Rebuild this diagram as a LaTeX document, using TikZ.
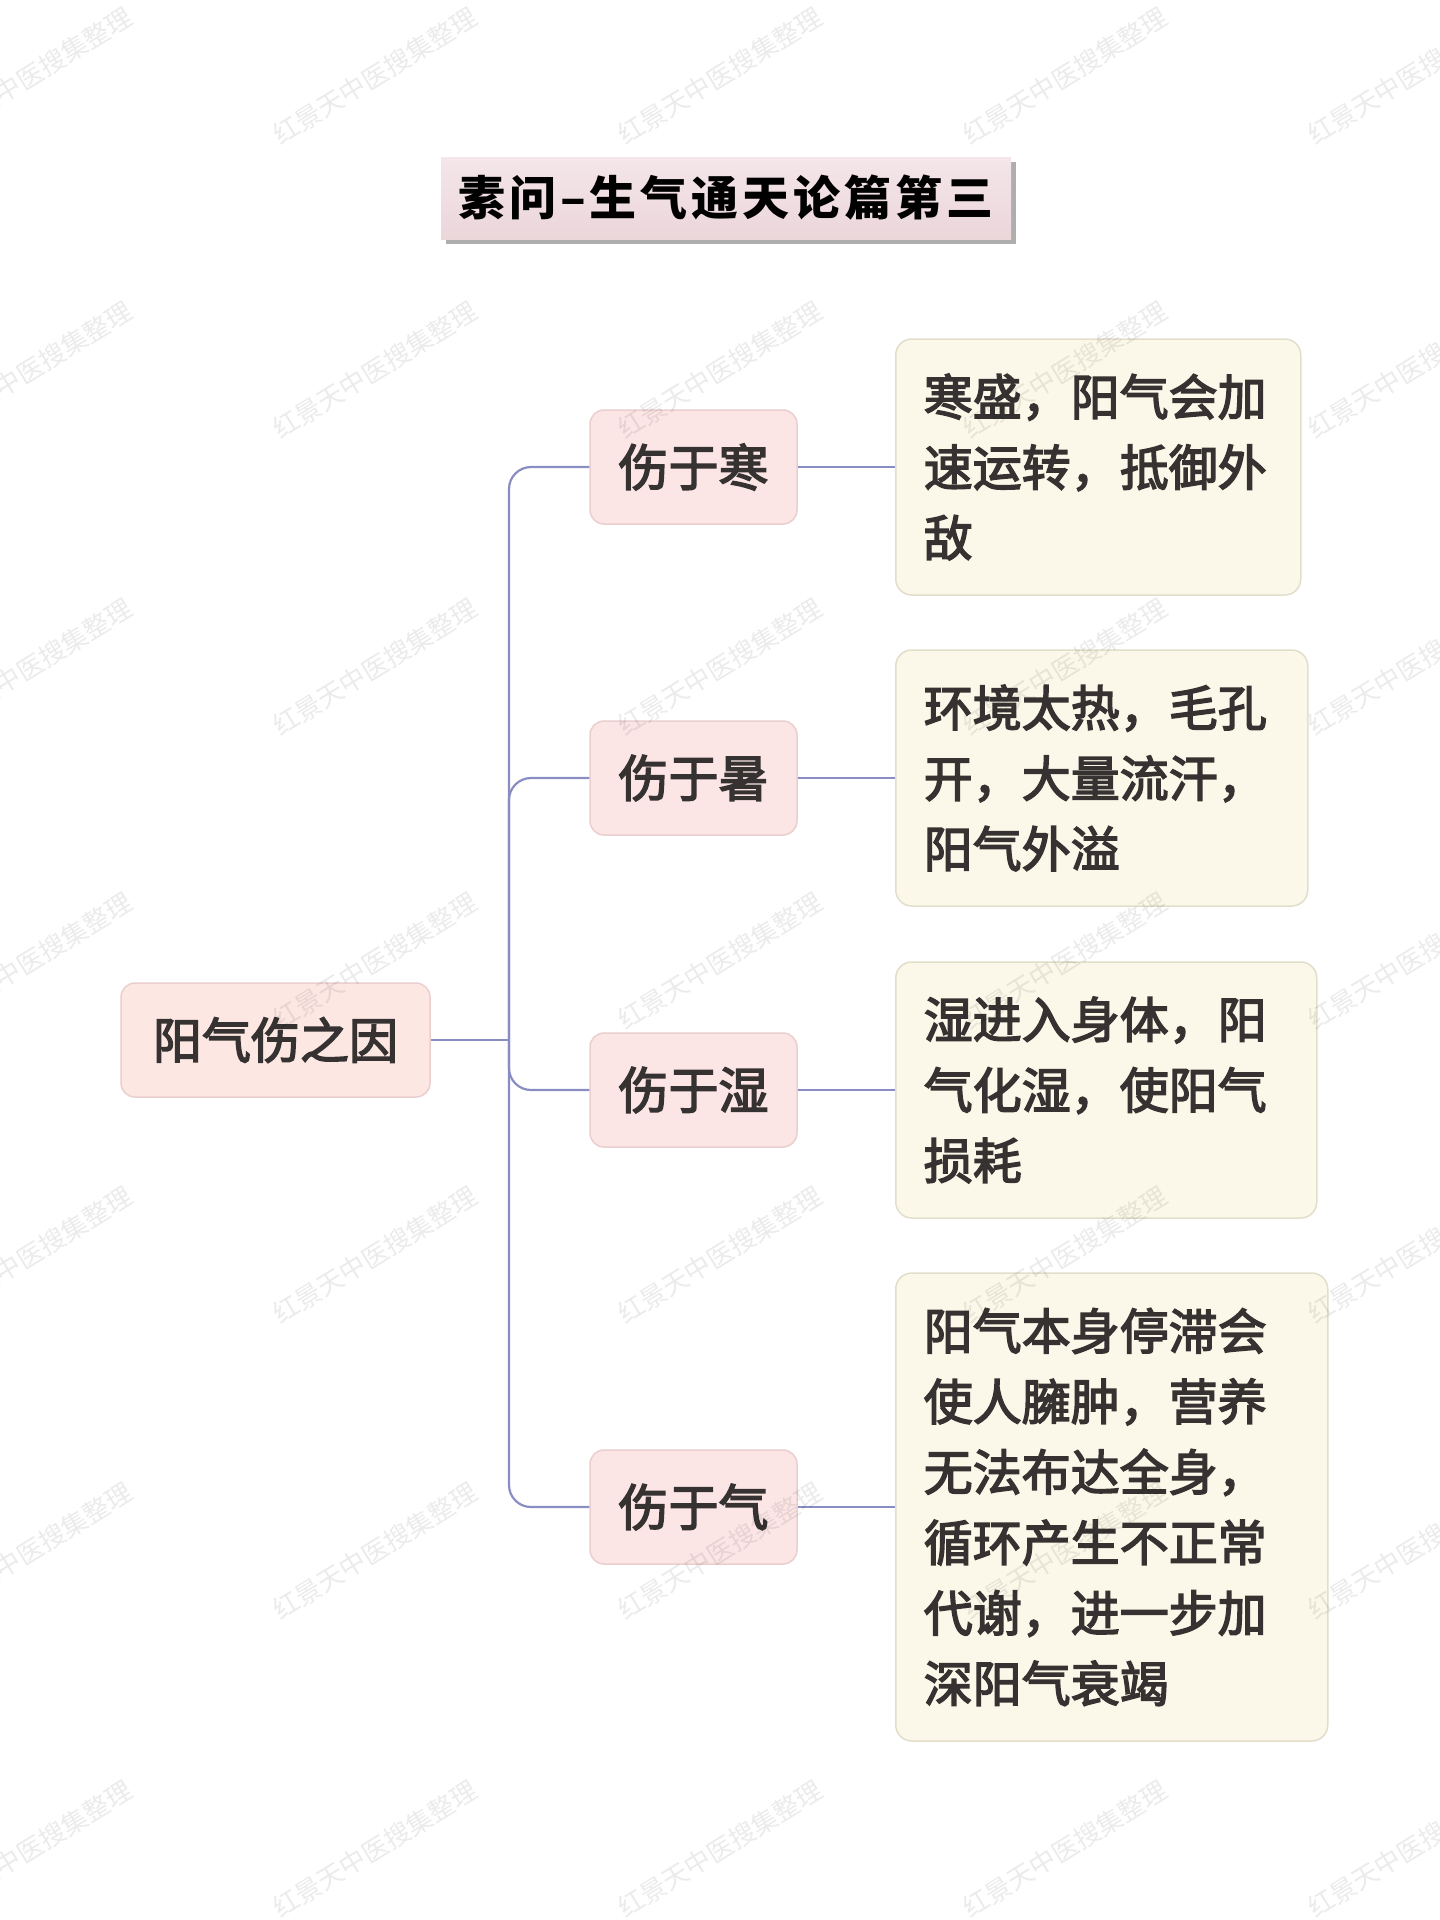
\documentclass[tikz,border=0pt]{standalone}
\usepackage{fontspec}
\setmainfont{Noto Sans CJK SC}
\newfontfamily\cjk{Noto Sans CJK SC}
\newfontfamily\cjkm[FakeBold=3]{Noto Sans CJK SC}
\usetikzlibrary{shadows}
\definecolor{txt}{HTML}{363232}
\definecolor{linec}{HTML}{8A8DC2}
\definecolor{pinkf}{HTML}{FBE5E5}
\definecolor{pinkd}{HTML}{EBCFCF}
\definecolor{rootf}{HTML}{FCE7E3}
\definecolor{creamf}{HTML}{FBF8E9}
\definecolor{creamd}{HTML}{E2DECB}
\definecolor{titletop}{HTML}{F4E6EA}
\definecolor{titlebot}{HTML}{EBD6DA}
\tikzset{
  rootbox/.style={draw=pinkd, fill=rootf, rounded corners=14pt, line width=1.5pt,
    minimum width=309pt, minimum height=114pt, inner sep=0pt, text=txt,
    font=\cjkm\fontsize{49}{60}\selectfont},
  catbox/.style={draw=pinkd, fill=pinkf, rounded corners=14pt, line width=1.5pt,
    minimum width=207pt, minimum height=114pt, inner sep=0pt, text=txt,
    font=\cjkm\fontsize{50}{60}\selectfont},
  descbox/.style={draw=creamd, fill=creamf, rounded corners=16pt, line width=1.5pt,
    inner xsep=28pt, inner ysep=0pt, align=left, anchor=west, text=txt,
    font=\cjkm\fontsize{49}{70.5}\selectfont},
  conn/.style={draw=linec, line width=2.2pt},
  wmark/.style={text=black, opacity=0.08, inner sep=0pt,
    font=\cjk\fontsize{26}{30}\selectfont, rotate=31.6},
  titlebox/.style={top color=titletop, bottom color=titlebot, draw=none,
    minimum width=570pt, minimum height=82pt, inner sep=0pt,
    drop shadow={shadow xshift=5pt, shadow yshift=-5pt, opacity=0.45, fill=black!70},
    font=\cjk\bfseries\fontsize{47}{50}\selectfont, text=black}
}
\begin{document}
\begin{tikzpicture}[x=1pt,y=-1pt]
\useasboundingbox (0,0) rectangle (1440,1920);
\fill[white] (0,0) rectangle (1440,1920);

% title
\node[titlebox] (title) at (726,198) {素\kern4pt 问\kern4pt –\kern4pt 生\kern4pt 气\kern4pt 通\kern4pt 天\kern4pt 论\kern4pt 篇\kern4pt 第\kern4pt 三};

% root
\node[rootbox] (root) at (275.5,1040) {阳气伤之因};

% categories
\node[catbox] (c1) at (693.5,467) {伤于寒};
\node[catbox] (c2) at (693.5,778) {伤于暑};
\node[catbox] (c3) at (693.5,1090) {伤于湿};
\node[catbox] (c4) at (693.5,1507) {伤于气};

% descriptions
\node[descbox, text width=349pt, minimum height=256pt] (d1) at (895,467)
  {寒盛，阳气会加\\速运转，抵御外\\敌\\[-8pt]};
\node[descbox, text width=356pt, minimum height=256pt] (d2) at (895,778)
  {环境太热，毛孔\\开，大量流汗，\\阳气外溢\\[-8pt]};
\node[descbox, text width=365pt, minimum height=256pt] (d3) at (895,1090)
  {湿进入身体，阳\\气化湿，使阳气\\损耗\\[-8pt]};
\node[descbox, text width=376pt, minimum height=468pt] (d4) at (895,1507)
  {阳气本身停滞会\\使人臃肿，营养\\无法布达全身，\\循环产生不正常\\代谢，进一步加\\深阳气衰竭\\[-8pt]};

% connectors
\coordinate (trunk) at (509,1040);
\draw[conn] (root.east) -- (trunk);
\foreach \c in {c1,c2,c3,c4}
  \draw[conn, rounded corners=22pt] (trunk) |- (\c.west);
\foreach \i in {1,2,3,4}
  \draw[conn] (c\i.east) -- (d\i.west);

% watermarks
\foreach \x in {30,375,720,1065,1410}
  \foreach \y in {76,370,667,961,1255,1551,1849}
    \node[wmark] (wm-\x-\y) at (\x,\y) {红景天中医搜集整理};
\end{tikzpicture}
\end{document}
